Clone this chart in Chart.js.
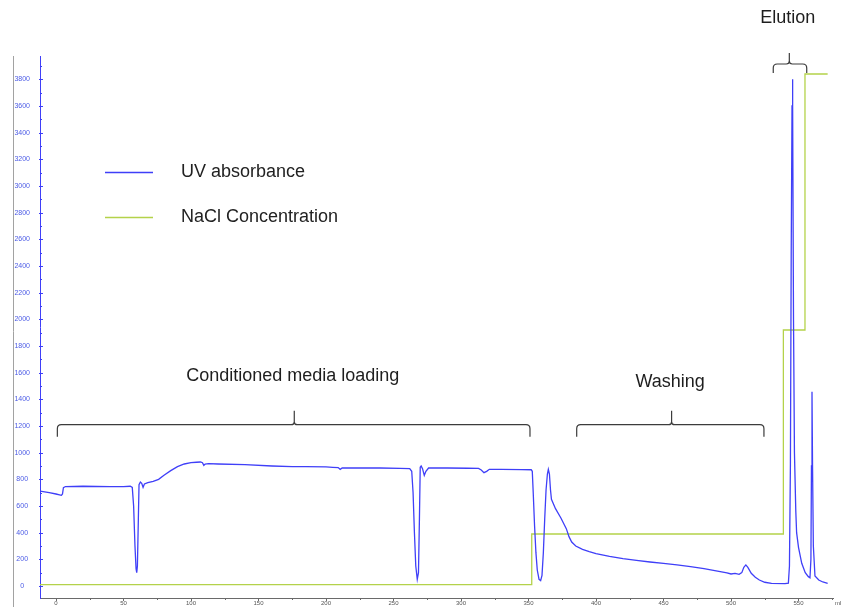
<!DOCTYPE html>
<html>
<head>
<meta charset="utf-8">
<title>Chromatogram</title>
<script src="https://cdn.jsdelivr.net/npm/chart.js@4.4.1/dist/chart.umd.min.js"></script>
<style>
  html, body { margin: 0; padding: 0; background: #ffffff; }
  #wrap { width: 842px; height: 607px; }
  canvas { display: block; }
</style>
</head>
<body>
<div id="wrap"><canvas id="chrom" width="842" height="607"></canvas></div>
<script>
// UV absorbance trace (volume in ml, absorbance in mAU)
const uvVolume = [
  -11.85, -5, 0, 4, 4.8, 5.5, 7, 20, 40, 50, 55, 56.5, 57.5, 58.5, 59.3, 59.8, 60.3, 61, 61.5, 62.5,
  63.5, 64.5, 65.5, 68, 72, 76, 80, 85, 90, 95, 100, 104, 107, 108.5, 109.5, 110.5, 113, 120, 140, 160,
  175, 185, 200, 205, 209, 210.5, 212, 220, 240, 255, 262, 263.5, 264.5, 265.5, 266.5, 267.6, 268.5, 269.2, 269.8, 270.5,
  271.5, 272.8, 274, 276, 290, 305, 313, 315, 317, 319, 321, 330, 345, 352, 352.8, 353.5, 354.5, 355.5, 356.5, 357.8,
  359, 360, 361, 362, 363, 364, 364.7, 365.5, 366.3, 367, 370, 374, 378, 380, 382, 385, 390, 395, 400, 410,
  420, 430, 440, 450, 460, 470, 480, 490, 497, 500, 503, 506, 508, 509.5, 511, 512.5, 515, 518, 521, 525,
  530, 540, 542.5, 543.3, 544, 544.6, 545.2, 545.5, 545.8, 546.3, 547, 548, 548.6, 550, 552.4, 555, 557.3, 558.5, 559.2, 559.6,
  560, 560.4, 561, 562.2, 565, 568, 571.6
];
const uvAbsorbance = [
  712, 700, 690, 680, 690, 738, 746, 748, 746, 745, 748, 740, 600, 300, 130, 100, 150, 500, 760, 780,
  770, 740, 765, 775, 785, 800, 830, 865, 895, 915, 925, 928, 930, 925, 905, 915, 918, 915, 910, 900,
  895, 895, 893, 890, 888, 875, 885, 885, 885, 882, 880, 860, 700, 400, 150, 50, 100, 500, 890, 900,
  880, 830, 860, 885, 885, 883, 882, 870, 850, 860, 875, 875, 873, 872, 860, 700, 450, 250, 120, 50,
  40, 80, 250, 500, 720, 840, 875, 840, 720, 650, 580, 510, 430, 370, 330, 300, 275, 258, 243, 222,
  205, 192, 180, 170, 158, 145, 130, 112, 98, 90, 95, 88, 100, 140, 158, 140, 95, 65, 45, 28,
  20, 18, 22, 150, 900, 2500, 3600, 3800, 3600, 2000, 1000, 560, 400, 290, 170, 100, 70, 62, 200, 900,
  1457, 900, 300, 75, 45, 30, 20
];

// NaCl concentration program (step gradient)
const naclVolume = [-11.85, 352.4, 352.4, 538.8, 538.8, 554.8, 554.8, 571.6];
const naclLevel = [10, 10, 390, 390, 1920, 1920, 3840, 3840];

// Axis ticks
const xTickValues = [0, 50, 100, 150, 200, 250, 300, 350, 400, 450, 500, 550];
const yTickValues = [0, 200, 400, 600, 800, 1000, 1200, 1400, 1600, 1800, 2000, 2200, 2400, 2600, 2800, 3000, 3200, 3400, 3600, 3800];

// Phase brackets: start/end volume, notch volume, level of the horizontal bar
const phaseNames = ['Conditioned media loading', 'Washing', 'Elution'];
const phaseStart = [1.0, 385.7, 531.3];
const phaseEnd = [351.1, 524.4, 556.1];
const phaseNotch = [176.5, 456.0, 543.2];
const phaseLevel = [1210, 1210, 3915];

const FONT = "'Liberation Sans', Arial, Helvetica, sans-serif";
const BLUE = '#3f3ff8';
const GREEN = '#b4d24a';

const uvPoints = uvVolume.map((v, i) => ({ x: v, y: uvAbsorbance[i] }));
const naclPoints = naclVolume.map((v, i) => ({ x: v, y: naclLevel[i] }));

function noScalePadding(scale) {
  scale.paddingTop = 0;
  scale.paddingBottom = 0;
  scale.paddingLeft = 0;
  scale.paddingRight = 0;
}

// Small tick marks on both axes (major + minor)
const axisMarks = {
  id: 'axisMarks',
  afterDraw(chart) {
    const ctx = chart.ctx;
    const xs = chart.scales.x, ys = chart.scales.y;
    const area = chart.chartArea;
    ctx.save();
    // grey frame line at far left
    ctx.strokeStyle = '#a2a2a2';
    ctx.lineWidth = 1;
    ctx.beginPath();
    ctx.moveTo(13.5, area.top);
    ctx.lineTo(13.5, chart.height);
    ctx.stroke();

    // y ticks
    ctx.strokeStyle = BLUE;
    for (let v = 0; v <= 3900; v += 100) {
      const py = Math.round(ys.getPixelForValue(v)) + 0.5;
      if (py < area.top) continue;
      const major = v % 200 === 0;
      ctx.beginPath();
      ctx.moveTo(area.left - (major ? 1 : 0), py);
      ctx.lineTo(area.left + (major ? 3 : 2), py);
      ctx.stroke();
    }
    // x ticks
    ctx.strokeStyle = '#6a6a6a';
    for (let v = 0; v <= 575; v += 25) {
      const px = Math.round(xs.getPixelForValue(v)) + 0.5;
      ctx.beginPath();
      ctx.moveTo(px, area.bottom);
      ctx.lineTo(px, area.bottom + (v % 50 === 0 ? 3 : 2));
      ctx.stroke();
    }
    // unit label at the end of the volume axis
    ctx.fillStyle = '#555555';
    ctx.font = '6px ' + FONT;
    ctx.textAlign = 'left';
    ctx.textBaseline = 'middle';
    ctx.fillText('ml', 835, 603.5);
    ctx.restore();
  }
};

// Legend drawn inside the plot area
const innerLegend = {
  id: 'innerLegend',
  afterDraw(chart) {
    const ctx = chart.ctx;
    const rows = [172.5, 217.5];
    ctx.save();
    chart.data.datasets.forEach((ds, i) => {
      const y = rows[i];
      ctx.strokeStyle = ds.borderColor;
      ctx.lineWidth = 1.3;
      ctx.beginPath();
      ctx.moveTo(105, y);
      ctx.lineTo(153, y);
      ctx.stroke();
      ctx.fillStyle = '#222222';
      ctx.font = '18px ' + FONT;
      ctx.textAlign = 'left';
      ctx.textBaseline = 'middle';
      ctx.fillText(ds.label, 181, y);
    });
    ctx.restore();
  }
};

// Curly brackets with phase names
const phaseBrackets = {
  id: 'phaseBrackets',
  afterDraw(chart) {
    const ctx = chart.ctx;
    const xs = chart.scales.x, ys = chart.scales.y;
    const drop = [12, 12, 9];
    const rise = [14, 14, 11];
    const textGap = [35, 29, 35];
    ctx.save();
    ctx.strokeStyle = '#3c3c3c';
    ctx.lineWidth = 1.2;
    phaseNames.forEach((name, i) => {
      const x0 = xs.getPixelForValue(phaseStart[i]);
      const x1 = xs.getPixelForValue(phaseEnd[i]);
      const xm = xs.getPixelForValue(phaseNotch[i]);
      const yl = ys.getPixelForValue(phaseLevel[i]);
      const yb = yl + drop[i];
      const yt = yl - rise[i];
      const r = 4, r2 = 3;
      ctx.beginPath();
      ctx.moveTo(x0, yb);
      ctx.lineTo(x0, yl + r);
      ctx.quadraticCurveTo(x0, yl, x0 + r, yl);
      ctx.lineTo(xm - r2, yl);
      ctx.quadraticCurveTo(xm, yl, xm, yl - r2);
      ctx.lineTo(xm, yt);
      ctx.moveTo(xm, yl - r2);
      ctx.quadraticCurveTo(xm, yl, xm + r2, yl);
      ctx.lineTo(x1 - r, yl);
      ctx.quadraticCurveTo(x1, yl, x1, yl + r);
      ctx.lineTo(x1, yb);
      ctx.stroke();

      ctx.fillStyle = '#1e1e1e';
      ctx.font = '18px ' + FONT;
      ctx.textAlign = 'center';
      ctx.textBaseline = 'middle';
      ctx.fillText(name, xm - 1.5, yt - textGap[i]);
    });
    ctx.restore();
  }
};

new Chart(document.getElementById('chrom'), {
  type: 'line',
  data: {
    datasets: [
      {
        label: 'UV absorbance',
        data: uvPoints,
        borderColor: BLUE,
        borderWidth: 1.3,
        pointRadius: 0,
        tension: 0,
        fill: false
      },
      {
        label: 'NaCl Concentration',
        data: naclPoints,
        borderColor: GREEN,
        borderWidth: 1.3,
        pointRadius: 0,
        tension: 0,
        fill: false
      }
    ]
  },
  options: {
    responsive: false,
    devicePixelRatio: 1,
    animation: false,
    events: [],
    layout: { padding: { top: 56, right: 8.4, left: 0, bottom: 0 } },
    plugins: {
      legend: { display: false },
      tooltip: { enabled: false },
      title: { display: false }
    },
    scales: {
      x: {
        type: 'linear',
        min: -11.85,
        max: 576,
        afterFit(scale) { scale.height = 9; noScalePadding(scale); },
        afterBuildTicks(scale) { scale.ticks = xTickValues.map(v => ({ value: v })); },
        grid: { display: false, drawTicks: false },
        border: { display: true, color: '#6a6a6a', width: 1 },
        ticks: {
          autoSkip: false,
          maxRotation: 0,
          padding: 2,
          color: '#555555',
          font: { family: FONT, size: 6 },
          callback: (v) => String(v)
        }
      },
      y: {
        type: 'linear',
        min: -90,
        max: 3975,
        afterFit(scale) { scale.width = 40; noScalePadding(scale); },
        afterBuildTicks(scale) { scale.ticks = yTickValues.map(v => ({ value: v })); },
        grid: { display: false, drawTicks: false },
        border: { display: true, color: BLUE, width: 1 },
        ticks: {
          autoSkip: false,
          padding: 10,
          crossAlign: 'center',
          color: '#4b5be6',
          font: { family: FONT, size: 7 },
          callback: (v) => String(v)
        }
      }
    }
  },
  plugins: [axisMarks, innerLegend, phaseBrackets]
});
</script>
</body>
</html>
